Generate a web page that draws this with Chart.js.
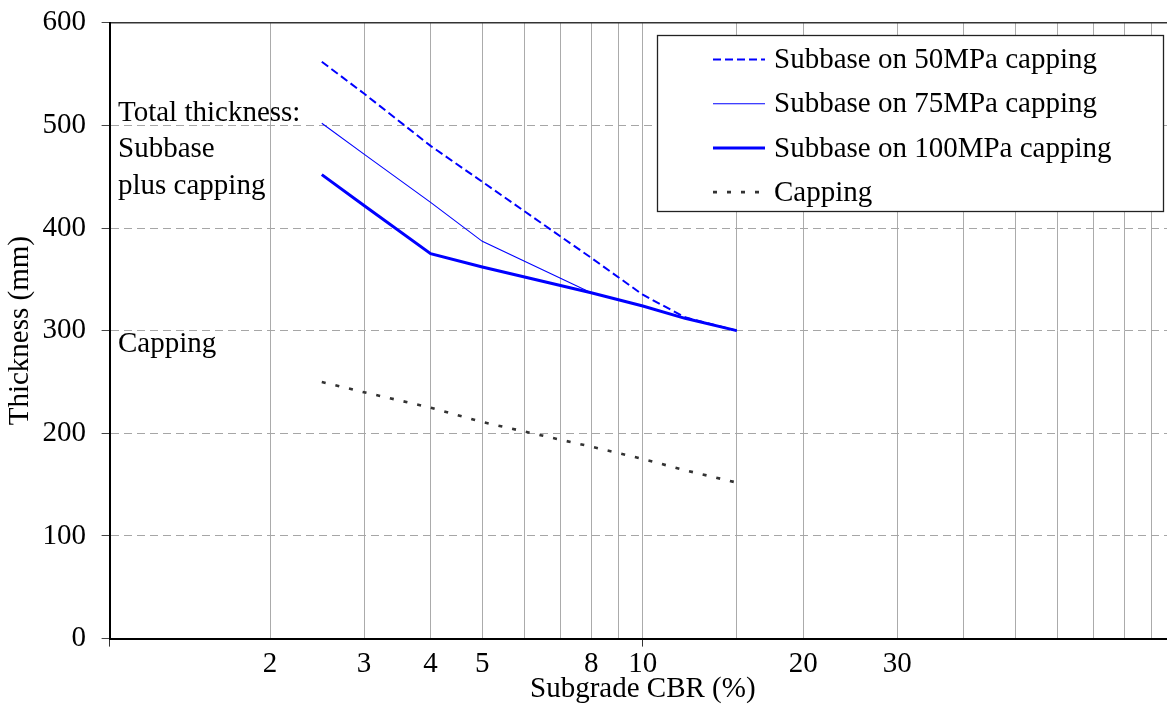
<!DOCTYPE html>
<html>
<head>
<meta charset="utf-8">
<script src="https://cdn.jsdelivr.net/npm/chart.js@4.4.1/dist/chart.umd.min.js"></script>
<style>
html, body { margin: 0; padding: 0; overflow: hidden; background: #fff; }
#wrap { width: 1176px; height: 713px; }
</style>
</head>
<body>
<div id="wrap"><canvas id="c" width="1176" height="713"></canvas></div>
<script>
// ---- data ----
const cbr = [2.5, 3, 4, 5, 8, 10, 12, 15];
const sub50 = [562, 531, 480, 445, 371, 335, 313, 300];
const sub75 = [502, 472, 425, 387, 337, 324, 312, 300];
const sub100 = [452, 422, 375, 362, 337, 324, 312, 300];
const capping = [250, 240, 225, 211, 187, 175, 164, 152];

const seriesLabels = ['Subbase on 50MPa capping', 'Subbase on 75MPa capping', 'Subbase on 100MPa capping', 'Capping'];
const xTickLabels = [2, 3, 4, 5, 8, 10, 20, 30];
const yTickStep = 100;
const annotations = ['Total thickness:', 'Subbase', 'plus capping', 'Capping'];
const xTitle = 'Subgrade CBR (%)';
const yTitle = 'Thickness (mm)';

const FONT = 'Liberation Serif, "Times New Roman", serif';
const FS = 29;

function pts(arr) { return cbr.map((x, i) => ({ x: x, y: arr[i] })); }

const legendPlugin = {
  id: 'boxLegend',
  afterDatasetsDraw(chart) {
    const ctx = chart.ctx;
    ctx.save();
    ctx.fillStyle = '#fff';
    ctx.fillRect(657.5, 35.5, 506, 176);
    ctx.strokeStyle = '#222';
    ctx.lineWidth = 1.3;
    ctx.setLineDash([]);
    ctx.strokeRect(657.5, 35.5, 506, 176);
    chart.data.datasets.forEach((ds, i) => {
      const y = 59.5 + i * 44.2;
      ctx.beginPath();
      ctx.strokeStyle = ds.borderColor;
      ctx.lineWidth = ds.borderWidth;
      ctx.setLineDash(ds.borderDash || []);
      ctx.moveTo(713, y);
      ctx.lineTo(765, y);
      ctx.stroke();
      ctx.setLineDash([]);
      ctx.fillStyle = '#000';
      ctx.font = FS + 'px ' + FONT;
      ctx.textAlign = 'left';
      ctx.textBaseline = 'middle';
      ctx.fillText(ds.label, 774, y + 1);
    });
    ctx.restore();
  }
};

const annotPlugin = {
  id: 'annot',
  afterDatasetsDraw(chart) {
    const ctx = chart.ctx;
    ctx.save();
    ctx.fillStyle = '#000';
    ctx.font = FS + 'px ' + FONT;
    ctx.textAlign = 'left';
    ctx.textBaseline = 'alphabetic';
    const base = [120.5, 157, 193.5, 352];
    annotations.forEach((t, i) => ctx.fillText(t, 118, base[i]));
    ctx.restore();
  }
};

new Chart(document.getElementById('c'), {
  type: 'line',
  data: {
    datasets: [
      { label: seriesLabels[0], data: pts(sub50), borderColor: '#0000ff', borderWidth: 2, borderDash: [8, 4] },
      { label: seriesLabels[1], data: pts(sub75), borderColor: '#0000ff', borderWidth: 1.1 },
      { label: seriesLabels[2], data: pts(sub100), borderColor: '#0000ff', borderWidth: 3 },
      { label: seriesLabels[3], data: pts(capping), borderColor: '#333333', borderWidth: 2.6, borderDash: [4, 10] }
    ]
  },
  options: {
    responsive: false,
    animation: false,
    events: [],
    elements: { point: { radius: 0 }, line: { tension: 0, fill: false } },
    layout: { padding: { top: 22.7, left: 0, right: 0, bottom: 0 } },
    plugins: { legend: { display: false }, tooltip: { enabled: false } },
    scales: {
      x: {
        type: 'logarithmic',
        position: 'bottom',
        min: 1,
        max: 100,
        afterFit: s => { s.height = 74.4; s.paddingLeft = 0; s.paddingRight = 0; },
        border: { display: true, color: '#000', width: 2 },
        grid: {
          color: c => (c.tick && (c.tick.value <= 1.0001 || c.tick.value >= 99.9)) ? 'rgba(0,0,0,0)' : '#ababab',
          lineWidth: 1,
          tickLength: 8,
          tickColor: c => (c.tick && (Math.abs(c.tick.value - 1) < 1e-6 || Math.abs(c.tick.value - 10) < 1e-6)) ? '#333' : 'rgba(0,0,0,0)'
        },
        ticks: {
          autoSkip: false,
          maxRotation: 0,
          minRotation: 0,
          padding: 0,
          color: '#000',
          font: { family: FONT, size: FS },
          callback: v => xTickLabels.some(t => Math.abs(t - v) < 1e-6) ? String(v) : ''
        },
        title: { display: true, text: xTitle, color: '#000', font: { family: FONT, size: FS }, padding: { top: 0, bottom: 6.6 } }
      },
      x2: {
        type: 'logarithmic',
        position: 'top',
        min: 1,
        max: 100,
        afterFit: s => { s.height = 0; s.paddingLeft = 0; s.paddingRight = 0; },
        border: { display: true, color: '#333', width: 1.5 },
        grid: { display: false, drawTicks: false },
        ticks: { display: false }
      },
      y: {
        type: 'linear',
        min: 0,
        max: 600,
        afterFit: s => { s.width = 109.6; s.paddingTop = 0; s.paddingBottom = 0; },
        border: { display: true, color: '#000', width: 2, dash: [8, 5] },
        grid: {
          color: c => (c.tick && (c.tick.value === 0 || c.tick.value === 600)) ? 'rgba(0,0,0,0)' : '#a6a6a6',
          lineWidth: 1,
          tickLength: 8,
          tickColor: '#444',
          tickBorderDash: []
        },
        ticks: {
          stepSize: yTickStep,
          padding: 15.6,
          color: '#000',
          font: { family: FONT, size: FS }
        },
        title: { display: true, text: yTitle, color: '#000', font: { family: FONT, size: FS }, padding: { top: 3, bottom: 0 } }
      }
    }
  },
  plugins: [annotPlugin, legendPlugin]
});
</script>
</body>
</html>
